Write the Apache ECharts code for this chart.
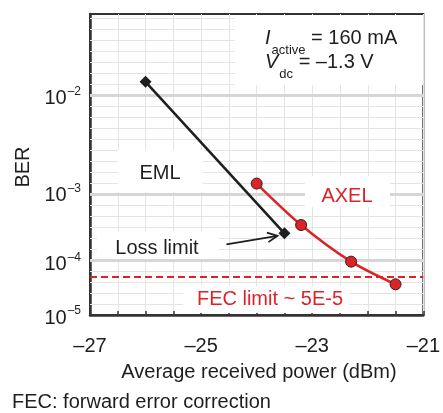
<!DOCTYPE html>
<html>
<head>
<meta charset="utf-8">
<style>
  html, body { margin: 0; padding: 0; background: #fff; }
  #chart { width: 443px; height: 413px; }
</style>
<script src="https://cdn.jsdelivr.net/npm/echarts@6.0.0/dist/echarts.min.js"></script>
</head>
<body>
<div id="chart"></div>
<script>
// Average received optical power (dBm) and measured bit error ratio
const emlPower = [-26.0, -23.5];
const emlBer = [1.3e-2, 2.8e-4];
const axelPower = [-24.0, -23.2, -22.3, -21.5];
const axelBer = [1.3e-3, 3.7e-4, 1.0e-4, 4.0e-5];
const fecLimit = 5e-5;

// Axis ticks
const xLabelValues = [-27, -25, -23, -21];
const berDecades = [1e-2, 1e-3, 1e-4, 1e-5];
const berExponents = [-2, -3, -4, -5];
const berTop = 0.038;
const minorSteps = [9, 6, 5];

// BER axis is drawn on a log(-log BER) scale
const q = b => Math.log10(-Math.log10(b));
const FONT = '"Liberation Sans", Arial, Helvetica, sans-serif';
const RED = '#dc2328';
const INK = '#1e1e1e';
const AXIS = '#333333';

const decadeT = berDecades.map(q);
const minorT = [];
for (let i = 0; i < decadeT.length - 1; i++) {
  const a = decadeT[i], b = decadeT[i + 1], n = minorSteps[i];
  for (let k = 1; k < n; k++) minorT.push(a + (b - a) * k / n);
}
const stepTop = (decadeT[1] - decadeT[0]) / minorSteps[0];
for (let v = decadeT[0] - stepTop; v > q(berTop) + 0.004; v -= stepTop) minorT.push(v);

const gridLines = [
  ...minorT.map(v => ({ yAxis: v, lineStyle: { color: '#e4e4e4', width: 1, type: 'solid' } })),
  ...decadeT.slice(0, 3).map(v => ({ yAxis: v, lineStyle: { color: '#d6d6d6', width: 3, type: 'solid' } }))
];

const fmtMinus = v => (v < 0 ? '\u2013' : '') + Math.abs(v);

const chart = echarts.init(document.getElementById('chart'), null, { renderer: 'canvas' });

chart.setOption({
  animation: false,
  backgroundColor: '#fff',
  textStyle: { fontFamily: FONT },
  grid: {
    left: 90, right: 15, top: 14, bottom: 98,
    show: true, borderColor: AXIS, borderWidth: 2, backgroundColor: '#fff'
  },
  xAxis: {
    type: 'value', min: -27, max: -21, interval: 0.5,
    axisLine: { show: true, onZero: false, lineStyle: { color: AXIS, width: 2.5 } },
    axisTick: { show: true, inside: true, length: 4, lineStyle: { color: AXIS, width: 1.5 } },
    splitLine: { show: true, lineStyle: { color: '#e4e4e4', width: 1 } },
    axisLabel: {
      margin: 21, color: INK, fontSize: 20, fontFamily: FONT,
      formatter: v => xLabelValues.some(t => Math.abs(t - v) < 1e-6) ? fmtMinus(v) : ''
    }
  },
  yAxis: {
    type: 'value', inverse: true, min: q(berTop), max: q(1e-5),
    axisLine: { show: true, onZero: false, lineStyle: { color: AXIS, width: 2.5 } },
    axisTick: { show: false },
    splitLine: { show: false },
    axisLabel: {
      margin: 9, color: INK, fontFamily: FONT,
      customValues: decadeT,
      formatter: v => {
        const i = decadeT.findIndex(t => Math.abs(t - v) < 1e-6);
        return i < 0 ? '' : '{b|10}{s|' + fmtMinus(berExponents[i]) + '}';
      },
      rich: {
        b: { fontSize: 20, lineHeight: 20, verticalAlign: 'top', fontFamily: FONT, color: INK, padding: [3, 0, 0, 0] },
        s: { fontSize: 12, lineHeight: 12, verticalAlign: 'top', fontFamily: FONT, color: INK, padding: [0, 0, 0, 1] }
      }
    }
  },
  series: [
    {
      name: 'grid', type: 'line', z: 1, silent: true,
      data: emlPower.map((x, i) => [x, q(emlBer[i])]),
      showSymbol: false, lineStyle: { opacity: 0 },
      markLine: { silent: true, symbol: 'none', label: { show: false }, animation: false, data: gridLines }
    },
    {
      name: 'EML', type: 'line', z: 10,
      data: emlPower.map((x, i) => [x, q(emlBer[i])]),
      symbol: 'diamond', symbolSize: 12,
      itemStyle: { color: INK },
      lineStyle: { color: INK, width: 2.5 }
    },
    {
      name: 'AXEL', type: 'line', z: 11, smooth: 0.3,
      data: axelPower.map((x, i) => [x, q(axelBer[i])]),
      symbol: 'circle', symbolSize: 11,
      itemStyle: { color: RED, borderColor: '#3a1d1d', borderWidth: 1 },
      lineStyle: { color: RED, width: 2.5 },
      markLine: {
        silent: true, symbol: 'none', label: { show: false },
        lineStyle: { color: RED, width: 2, type: [7, 4] },
        data: [{ yAxis: q(fecLimit) }]
      }
    }
  ]
});

// Annotation boxes, labels and the loss-limit arrow
const lossPt = chart.convertToPixel({ gridIndex: 0 }, [emlPower[1], q(emlBer[1])]);
const arrowEnd = [lossPt[0] - 7, lossPt[1] + 2.5];
const arrowStart = [lossPt[0] - 58, lossPt[1] + 11];
const dx = arrowEnd[0] - arrowStart[0], dy = arrowEnd[1] - arrowStart[1];
const len = Math.hypot(dx, dy), ux = dx / len, uy = dy / len;
const headLen = 11, headAng = 0.45;
const head = a => [
  arrowEnd[0] - headLen * (ux * Math.cos(a) - uy * Math.sin(a)),
  arrowEnd[1] - headLen * (uy * Math.cos(a) + ux * Math.sin(a))
];

const box = (x, y, w, h) => ({ type: 'rect', z: 5, silent: true, shape: { x, y, width: w, height: h }, style: { fill: '#fff' } });
const label = (x, y, text, color, extra) => Object.assign({
  type: 'text', z: 6, silent: true, x, y,
  style: { text, fill: color, fontSize: 20, fontFamily: FONT, align: 'center', verticalAlign: 'middle' }
}, extra || {});

const subRich = {
  i: { fontSize: 20, fontStyle: 'italic', lineHeight: 24, verticalAlign: 'top', fontFamily: FONT, fill: INK, color: INK },
  s: { fontSize: 13, lineHeight: 13, verticalAlign: 'top', fontFamily: FONT, fill: INK, color: INK, padding: [15, 0, 0, 1] },
  n: { fontSize: 20, lineHeight: 24, verticalAlign: 'top', fontFamily: FONT, fill: INK, color: INK }
};

chart.setOption({
  graphic: [
    box(235, 15, 188, 70),
    box(118, 150, 85, 42),
    box(305, 176, 85, 31),
    box(97, 231, 122, 28),
    box(183, 286, 166, 27),
    {
      type: 'text', z: 6, silent: true, x: 265, y: 28.5,
      style: { text: '{i|I}{s|active}{n| = 160 mA}', rich: subRich, align: 'left', verticalAlign: 'top' }
    },
    {
      type: 'text', z: 6, silent: true, x: 265, y: 52.5,
      style: { text: '{i|V}{s|dc}{n| = \u20131.3 V}', rich: subRich, align: 'left', verticalAlign: 'top' }
    },
    label(160, 173, 'EML', INK),
    label(347, 196, 'AXEL', RED),
    label(157, 248, 'Loss limit', INK),
    label(270, 299, 'FEC limit ~ 5E-5', RED),
    {
      type: 'polyline', z: 12, silent: true,
      shape: { points: [arrowStart, arrowEnd] },
      style: { stroke: INK, lineWidth: 1.8, fill: null }
    },
    {
      type: 'polyline', z: 12, silent: true,
      shape: { points: [head(headAng), arrowEnd, head(-headAng)] },
      style: { stroke: INK, lineWidth: 1.8, fill: null }
    },
    label(23.5, 167, 'BER', INK, { rotation: Math.PI / 2 }),
    label(259, 372, 'Average received power (dBm)', INK),
    label(12, 402, 'FEC: forward error correction', INK, {
      style: { text: 'FEC: forward error correction', fill: INK, fontSize: 20, fontFamily: FONT, align: 'left', verticalAlign: 'middle' }
    })
  ]
});
</script>
</body>
</html>
